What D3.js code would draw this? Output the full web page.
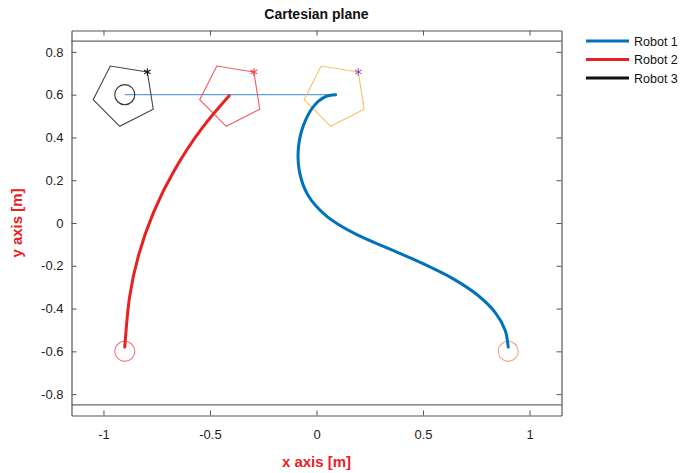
<!DOCTYPE html>
<html>
<head>
<meta charset="utf-8">
<script src="https://cdn.jsdelivr.net/npm/d3@7"></script>
<style>
  html, body { margin: 0; padding: 0; background: #fff; }
  svg { display: block; font-family: "Liberation Sans", Arial, sans-serif; }
</style>
</head>
<body>
<svg id="chart" width="686" height="473"></svg>
<script>
// Robot trajectories in the plane (metres)
const robot1Path = [
  [0.90, -0.58], [0.885, -0.50], [0.84, -0.42], [0.76, -0.34], [0.64, -0.26],
  [0.50, -0.19], [0.34, -0.12], [0.18, -0.05], [0.05, 0.03], [-0.04, 0.13],
  [-0.08, 0.24], [-0.085, 0.35], [-0.06, 0.46], [-0.01, 0.55], [0.04, 0.59], [0.09, 0.60]
];
const robot2Path = [
  [-0.90, -0.58], [-0.878, -0.35], [-0.835, -0.15], [-0.765, 0.05],
  [-0.665, 0.25], [-0.54, 0.44], [-0.41, 0.595]
];

// Start markers (circles) and final poses (pentagons)
const startCircles = [
  { x: 0.90, y: -0.60, color: "#f2a27a" },
  { x: -0.90, y: -0.60, color: "#f2777a" },
  { x: -0.90, y: 0.60, color: "#333333" }
];
const poseNames = ["Robot 3", "Robot 2", "Robot 1"];
const poseX = [-0.90, -0.40, 0.09];
const poseY = [0.60, 0.60, 0.60];
const poseHeadingDeg = [45, 45, 45];
const poseColors = ["#444444", "#f05a5e", "#f0c463"];
const starColors = ["#111111", "#f04048", "#9b59b6"];
const poseRadius = 0.15;
const circleRadius = 0.047;

// Link between leader and follower
const linkFrom = [-0.90, 0.60];
const linkTo = [0.09, 0.60];

// Axes
const xTicks = [-1, -0.5, 0, 0.5, 1];
const xTickLabels = ["-1", "-0.5", "0", "0.5", "1"];
const yTicks = [-0.8, -0.6, -0.4, -0.2, 0, 0.2, 0.4, 0.6, 0.8];
const yTickLabels = ["-0.8", "-0.6", "-0.4", "-0.2", "0", "0.2", "0.4", "0.6", "0.8"];
const boundaryY = [0.85, -0.85];

const legendNames = ["Robot 1", "Robot 2", "Robot 3"];
const legendColors = ["#0072bd", "#e8201f", "#111111"];

const svg = d3.select("#chart");
const x = d3.scaleLinear().domain([-1.15, 1.15]).range([71.5, 561.5]);
const y = d3.scaleLinear().domain([-0.9, 0.9]).range([415.5, 30.5]);
const pxPerUnit = x(1) - x(0);

// Title
svg.append("text")
  .attr("x", (x.range()[0] + x.range()[1]) / 2).attr("y", 19)
  .attr("text-anchor", "middle").attr("font-weight", "bold")
  .attr("font-size", 14).attr("fill", "#111")
  .text("Cartesian plane");

// Plot area
const plot = svg.append("g");

// Workspace boundaries
plot.selectAll("line.bound").data(boundaryY).join("line")
  .attr("x1", x.range()[0]).attr("x2", x.range()[1])
  .attr("y1", d => y(d)).attr("y2", d => y(d))
  .attr("stroke", "#666").attr("stroke-width", 1.2);

// Leader-follower link
plot.append("line")
  .attr("x1", x(linkFrom[0])).attr("y1", y(linkFrom[1]))
  .attr("x2", x(linkTo[0])).attr("y2", y(linkTo[1]))
  .attr("stroke", "#5fa0d8").attr("stroke-width", 1.2);

// Start circles
plot.selectAll("circle.start").data(startCircles).join("circle")
  .attr("cx", d => x(d.x)).attr("cy", d => y(d.y))
  .attr("r", circleRadius * pxPerUnit)
  .attr("fill", "none").attr("stroke", d => d.color).attr("stroke-width", 1.1);

// Pentagons for final poses
const pentagon = (cx, cy, headDeg) => d3.range(5).map(k => {
  const a = (headDeg + 72 * k) * Math.PI / 180;
  return [x(cx + poseRadius * Math.cos(a)), y(cy + poseRadius * Math.sin(a))];
});
poseX.forEach((px, i) => {
  const pts = pentagon(px, poseY[i], poseHeadingDeg[i]);
  plot.append("path")
    .attr("d", "M" + pts.map(p => p.join(",")).join("L") + "Z")
    .attr("fill", "none").attr("stroke", poseColors[i]).attr("stroke-width", 1.1);
  plot.append("path")
    .attr("transform", `translate(${pts[0][0]},${pts[0][1]})`)
    .attr("d", d3.symbol(d3.symbolAsterisk, 40)())
    .attr("fill", "none").attr("stroke", starColors[i]).attr("stroke-width", 1.1);
});

// Trajectories
const line = d3.line().x(d => x(d[0])).y(d => y(d[1]));
plot.append("path").datum(robot2Path).attr("d", line.curve(d3.curveNatural))
  .attr("fill", "none").attr("stroke", legendColors[1]).attr("stroke-width", 3)
  .attr("stroke-linecap", "round");
plot.append("path").datum(robot1Path).attr("d", line.curve(d3.curveCatmullRom.alpha(0.5)))
  .attr("fill", "none").attr("stroke", legendColors[0]).attr("stroke-width", 3)
  .attr("stroke-linecap", "round");

// Axes with inward ticks (box style)
const tickLen = 5;
const axisG = svg.append("g");
axisG.append("g").attr("transform", `translate(0,${y.range()[0]})`)
  .call(d3.axisBottom(x).tickValues(xTicks).tickSizeInner(-tickLen).tickSizeOuter(0).tickPadding(14)
    .tickFormat((d, i) => xTickLabels[i]));
axisG.append("g").attr("transform", `translate(0,${y.range()[1]})`)
  .call(d3.axisTop(x).tickValues(xTicks).tickSizeInner(-tickLen).tickSizeOuter(0).tickFormat(""));
axisG.append("g").attr("transform", `translate(${x.range()[0]},0)`)
  .call(d3.axisLeft(y).tickValues(yTicks).tickSizeInner(-tickLen).tickSizeOuter(0).tickPadding(8)
    .tickFormat((d, i) => yTickLabels[i]));
axisG.append("g").attr("transform", `translate(${x.range()[1]},0)`)
  .call(d3.axisRight(y).tickValues(yTicks).tickSizeInner(-tickLen).tickSizeOuter(0).tickFormat(""));
axisG.selectAll(".domain").attr("stroke", "#555").attr("stroke-width", 1.2);
axisG.selectAll(".tick line").attr("stroke", "#555");
axisG.selectAll(".tick text").attr("font-size", 13).attr("fill", "#222")
  .attr("font-family", "'Liberation Sans', Arial, sans-serif");

// Axis labels
svg.append("text")
  .attr("x", (x.range()[0] + x.range()[1]) / 2).attr("y", 467)
  .attr("text-anchor", "middle").attr("font-weight", "bold")
  .attr("font-size", 15).attr("fill", "#e8201f")
  .text("x axis [m]");
svg.append("text")
  .attr("transform", `translate(22,${(y.range()[0] + y.range()[1]) / 2}) rotate(-90)`)
  .attr("text-anchor", "middle").attr("font-weight", "bold")
  .attr("font-size", 15).attr("fill", "#e8201f")
  .text("y axis [m]");

// Legend
const legend = svg.append("g").attr("transform", "translate(586,41)");
legendNames.forEach((name, i) => {
  const gy = i * 18.5;
  legend.append("line").attr("x1", 0).attr("x2", 43).attr("y1", gy).attr("y2", gy)
    .attr("stroke", legendColors[i]).attr("stroke-width", 3);
  legend.append("text").attr("x", 48).attr("y", gy + 4.5)
    .attr("font-size", 12.5).attr("fill", "#111").text(name);
});
</script>
</body>
</html>
